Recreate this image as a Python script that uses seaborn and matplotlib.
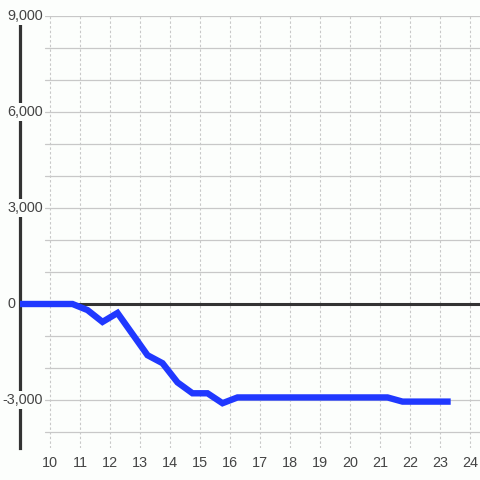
import matplotlib
matplotlib.use("Agg")
import matplotlib.pyplot as plt
import matplotlib.transforms as mtransforms
import seaborn as sns
import pandas as pd

# ---- data ----
hours = [9.0, 9.25, 9.75, 10.25, 10.75, 11.25, 11.75, 12.25, 12.75, 13.25,
         13.75, 14.25, 14.75, 15.25, 15.75, 16.25, 16.75, 17.25, 17.75, 18.25,
         18.75, 19.25, 19.75, 20.25, 20.75, 21.25, 21.75, 22.25, 22.75, 23.25]
values = [0, 0, 0, 0, 0, -190, -560, -280, -940, -1600,
          -1850, -2450, -2790, -2790, -3100, -2920, -2920, -2920, -2920, -2920,
          -2920, -2920, -2920, -2920, -2920, -2920, -3050, -3050, -3050, -3050]
x_ticks = list(range(10, 25))
y_ticks = [-3000, 0, 3000, 6000, 9000]
y_tick_labels = ["-3,000", "0", "3,000", "6,000", "9,000"]
y_grid = list(range(-4000, 10000, 1000))

df = pd.DataFrame({"hour": hours, "value": values})

bg = "#fcfefc"
txt = "#444444"
dark = "#333333"

sns.set_theme(style="white")
plt.rcParams["font.family"] = ["Liberation Sans", "DejaVu Sans"]

fig = plt.figure(figsize=(4.8, 4.8), dpi=100, facecolor=bg)
ax = fig.add_axes([20 / 480, 32 / 480, 460 / 480, 432 / 480])
ax.set_facecolor(bg)

ax.set_xlim(9.0, 9.0 + 460 / 30)
ax.set_ylim(-4500, 9000)

# horizontal solid gridlines (start a little right of the spine)
for yv in y_grid:
    ax.axhline(yv, xmin=25 / 460, xmax=1, color="#c8c8c8", lw=0.9, zorder=0.5)

# vertical dotted gridlines
for xv in x_ticks:
    ax.axvline(xv, color="#c8c8c8", lw=0.8, linestyle=(0, (2.2, 2.0)), zorder=0.5)

# zero line
ax.axhline(0, color=dark, lw=2.2, zorder=1.5)

sns.lineplot(data=df, x="hour", y="value", ax=ax, color="#2038ff", lw=4.6,
             zorder=6, solid_capstyle="projecting", solid_joinstyle="miter")

for s in ["top", "right", "bottom"]:
    ax.spines[s].set_visible(False)
ax.spines["left"].set_color(dark)
ax.spines["left"].set_linewidth(2.3)
ax.spines["left"].set_zorder(2.5)

ax.set_xticks(x_ticks)
ax.set_xticklabels([str(v) for v in x_ticks])
ax.tick_params(axis="x", length=0, pad=6, labelsize=10.4, labelcolor=txt)
ax.set_yticks([])
ax.set_xlabel("")
ax.set_ylabel("")

trans = mtransforms.blended_transform_factory(ax.transAxes, ax.transData)
for yv, lab in zip(y_ticks, y_tick_labels):
    right_px = -5 if yv == 0 else 23
    ax.text(right_px / 460, yv, lab, transform=trans, ha="right", va="center",
            fontsize=10.4, color=txt, zorder=5,
            bbox=dict(facecolor=bg, edgecolor="none", pad=1.2))

fig.savefig("out.png", dpi=100, facecolor=bg)
